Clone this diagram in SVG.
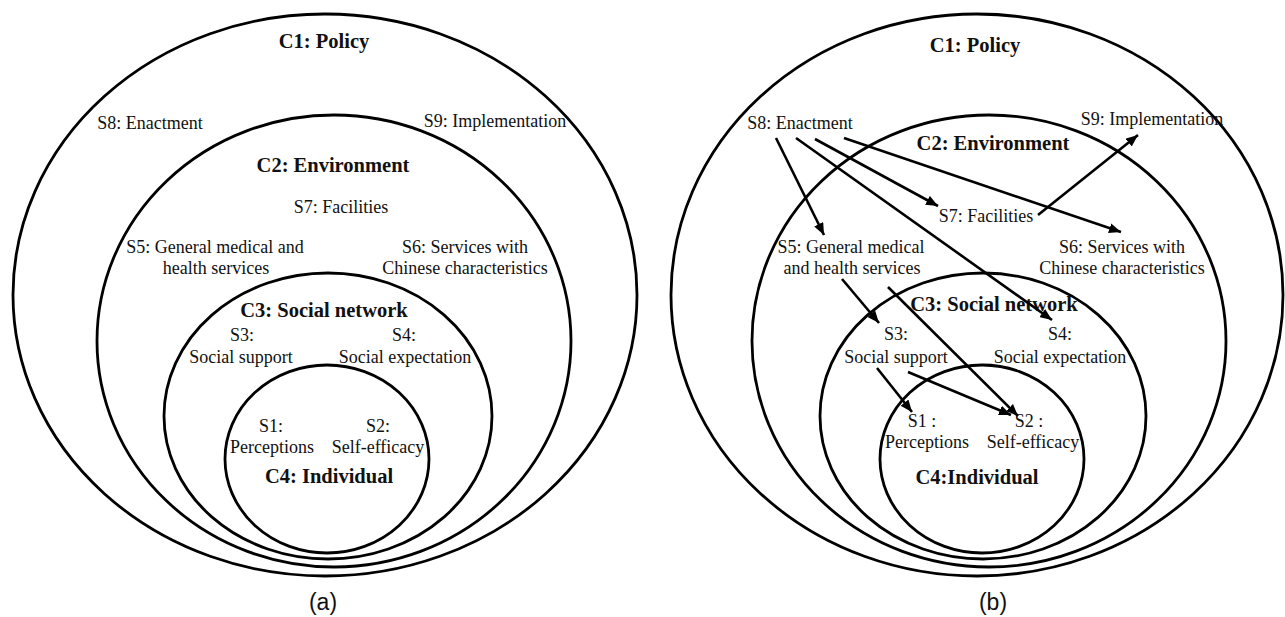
<svg xmlns="http://www.w3.org/2000/svg" width="1285" height="617" viewBox="0 0 1285 617">
<defs>
<style>
.ring{fill:none;stroke:#000;stroke-width:2.8}
.t{font-family:"Liberation Serif","Times New Roman",serif;font-size:18px;fill:#111;text-anchor:middle}
.b{font-family:"Liberation Serif","Times New Roman",serif;font-size:20.5px;font-weight:bold;fill:#111;text-anchor:middle}
.cap{font-family:"Liberation Sans",Arial,sans-serif;font-size:23px;fill:#111;text-anchor:middle}
.arr{stroke:#000;stroke-width:2.6;fill:none;marker-end:url(#ah)}
</style>
<marker id="ah" viewBox="0 0 12 10" refX="12" refY="5" markerWidth="12" markerHeight="10" markerUnits="userSpaceOnUse" orient="auto">
<path d="M0,0 L12,5 L0,10 Z" fill="#000"/>
</marker>
</defs>
<rect width="1285" height="617" fill="#fff"/>

<!-- Panel (a) -->
<g id="a-C1"><ellipse class="ring" cx="325" cy="295" rx="312" ry="281"/><text class="b" x="324" y="48">C1: Policy</text></g>
<g id="a-C2"><ellipse class="ring" cx="334" cy="341" rx="237" ry="226"/><text class="b" x="333" y="172">C2: Environment</text></g>
<g id="a-C3"><ellipse class="ring" cx="328" cy="416" rx="164" ry="143"/><text class="b" x="324" y="317">C3: Social network</text></g>
<g id="a-C4"><ellipse class="ring" cx="327" cy="459" rx="102" ry="94"/><text class="b" x="329" y="483">C4: Individual</text></g>
<g id="a-S8"><text class="t" x="150" y="129">S8: Enactment</text></g>
<g id="a-S9"><text class="t" x="495" y="127">S9: Implementation</text></g>
<g id="a-S7"><text class="t" x="341" y="213">S7: Facilities</text></g>
<g id="a-S5"><text class="t" x="215" y="253">S5: General medical and</text><text class="t" x="216" y="274">health services</text></g>
<g id="a-S6"><text class="t" x="465" y="253">S6: Services with</text><text class="t" x="465" y="274">Chinese characteristics</text></g>
<g id="a-S3"><text class="t" x="242" y="341">S3:</text><text class="t" x="241" y="363">Social support</text></g>
<g id="a-S4"><text class="t" x="404" y="341">S4:</text><text class="t" x="405" y="363">Social expectation</text></g>
<g id="a-S1"><text class="t" x="271" y="432">S1:</text><text class="t" x="272" y="453">Perceptions</text></g>
<g id="a-S2"><text class="t" x="378" y="432">S2:</text><text class="t" x="378" y="453">Self-efficacy</text></g>
<text class="cap" x="323" y="610">(a)</text>

<!-- Panel (b) -->
<g id="b-C1"><ellipse class="ring" cx="977" cy="295" rx="306" ry="281"/><text class="b" x="975" y="52">C1: Policy</text></g>
<g id="b-C2"><ellipse class="ring" cx="989" cy="341" rx="237" ry="226"/><text class="b" x="993" y="150">C2: Environment</text></g>
<g id="b-C3"><ellipse class="ring" cx="983" cy="416" rx="163" ry="143"/><text class="b" x="994" y="311">C3: Social network</text></g>
<g id="b-C4"><ellipse class="ring" cx="982" cy="459" rx="102" ry="94"/><text class="b" x="977" y="484">C4:Individual</text></g>
<g id="b-S8"><text class="t" x="800" y="129">S8: Enactment</text></g>
<g id="b-S9"><text class="t" x="1152" y="125">S9: Implementation</text></g>
<g id="b-S7"><text class="t" x="986" y="222">S7: Facilities</text></g>
<g id="b-S5"><text class="t" x="851" y="253">S5: General medical</text><text class="t" x="852" y="274">and health services</text></g>
<g id="b-S6"><text class="t" x="1122" y="253">S6: Services with</text><text class="t" x="1122" y="274">Chinese characteristics</text></g>
<g id="b-S3"><text class="t" x="896" y="340">S3:</text><text class="t" x="896" y="363">Social support</text></g>
<g id="b-S4"><text class="t" x="1060" y="340">S4:</text><text class="t" x="1060" y="363">Social expectation</text></g>
<g id="b-S1"><text class="t" x="922" y="427">S1 :</text><text class="t" x="927" y="448">Perceptions</text></g>
<g id="b-S2"><text class="t" x="1029" y="427">S2 :</text><text class="t" x="1033" y="448">Self-efficacy</text></g>
<text class="cap" x="993" y="610">(b)</text>

<g id="connectors">
<line class="arr" x1="776" y1="138" x2="824" y2="235"/>
<line class="arr" x1="796" y1="138" x2="1052" y2="320"/>
<line class="arr" x1="815" y1="139" x2="938" y2="206"/>
<line class="arr" x1="844" y1="138" x2="1121" y2="232"/>
<line class="arr" x1="1038" y1="215" x2="1138" y2="135"/>
<line class="arr" x1="842" y1="279" x2="879" y2="323"/>
<line class="arr" x1="888" y1="287" x2="1018" y2="416"/>
<line class="arr" x1="877" y1="368" x2="912" y2="412"/>
<line class="arr" x1="908" y1="372" x2="1011" y2="415"/>
</g>
</svg>
